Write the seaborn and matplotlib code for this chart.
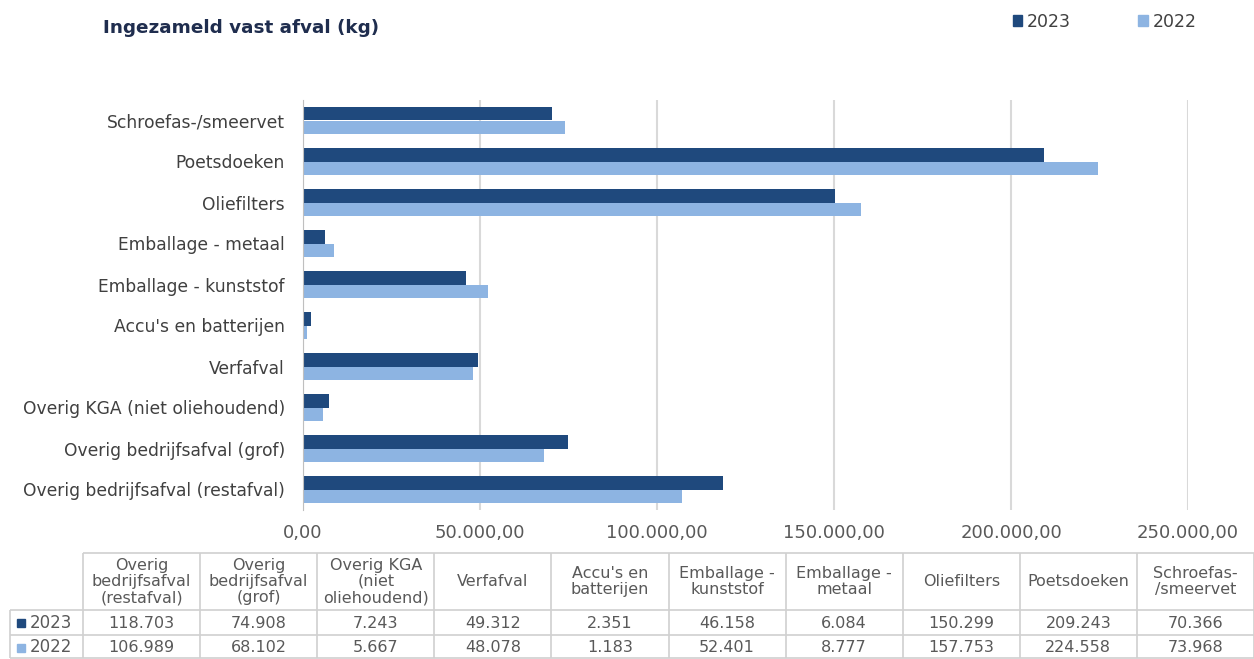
import matplotlib
matplotlib.use("Agg")
import matplotlib.pyplot as plt
import matplotlib.ticker as mticker
from matplotlib.patches import Rectangle
import pandas as pd
import seaborn as sns

# data (table order, left to right)
categories = ["Overig bedrijfsafval (restafval)", "Overig bedrijfsafval (grof)",
              "Overig KGA (niet oliehoudend)", "Verfafval", "Accu's en batterijen",
              "Emballage - kunststof", "Emballage - metaal", "Oliefilters",
              "Poetsdoeken", "Schroefas-/smeervet"]
table_headers = ["Overig\nbedrijfsafval\n(restafval)", "Overig\nbedrijfsafval\n(grof)",
                 "Overig KGA\n(niet\noliehoudend)", "Verfafval", "Accu's en\nbatterijen",
                 "Emballage -\nkunststof", "Emballage -\nmetaal", "Oliefilters",
                 "Poetsdoeken", "Schroefas-\n/smeervet"]
kg_2023 = [118703, 74908, 7243, 49312, 2351, 46158, 6084, 150299, 209243, 70366]
kg_2022 = [106989, 68102, 5667, 48078, 1183, 52401, 8777, 157753, 224558, 73968]
years = ["2023", "2022"]
x_ticks = [0, 50000, 100000, 150000, 200000, 250000]

DARK = "#1F497D"
LIGHT = "#8DB4E2"
TEXT = "#595959"
GRID = "#D9D9D9"


def nl(v, dec=2):
    s = f"{v:,.{dec}f}"
    return s.replace(",", "X").replace(".", ",").replace("X", ".")


df = pd.DataFrame({
    "categorie": categories * 2,
    "jaar": [years[0]] * len(categories) + [years[1]] * len(categories),
    "kg": kg_2023 + kg_2022,
})

sns.set_style("white")
plt.rcParams["font.family"] = ["DejaVu Sans"]

W, H = 1254, 659
fig = plt.figure(figsize=(W / 100, H / 100), dpi=100)
ax = fig.add_axes([303 / W, 1 - 510 / H, 885 / W, 410 / H])

sns.barplot(data=df, x="kg", y="categorie", hue="jaar", order=categories[::-1],
            hue_order=years, palette=[DARK, LIGHT], orient="h", width=0.67,
            saturation=1, errorbar=None, linewidth=0, legend=False, ax=ax)

ax.set_xlim(0, 250000)
ax.set_xticks(x_ticks)
ax.xaxis.set_major_formatter(mticker.FuncFormatter(lambda v, p: nl(v)))
ax.grid(axis="x", color=GRID, linewidth=1.5)
ax.set_axisbelow(True)
ax.set_xlabel("")
ax.set_ylabel("")
for s in ["top", "right", "bottom"]:
    ax.spines[s].set_visible(False)
ax.spines["left"].set_color("#BFBFBF")
ax.tick_params(axis="x", length=0, pad=10, labelsize=13, labelcolor=TEXT)
ax.tick_params(axis="y", which="major", length=0, pad=13, labelsize=12.3, labelcolor="#404040")
ax.set_yticks([i + 0.5 for i in range(-1, len(categories))], minor=True)
ax.tick_params(axis="y", which="minor", length=4, color="#BFBFBF")

fig.text(103 / W, 1 - 28 / H, "Ingezameld vast afval (kg)", fontsize=13.2,
         fontweight="bold", color="#1F2D4E", va="center", ha="left")

handles = [Rectangle((0, 0), 1, 1, color=DARK), Rectangle((0, 0), 1, 1, color=LIGHT)]
fig.legend(handles, years, loc="upper right", bbox_to_anchor=(1212 / W, 1 + 3 / H),
           ncol=2, frameon=False, handlelength=0.55, handleheight=0.55,
           handletextpad=0.25, columnspacing=3.9, fontsize=12.5, labelcolor="#404040")

# data table
tab = fig.add_axes([0, 0, 1, 106 / H])
tab.set_xlim(0, W)
tab.set_ylim(H, H - 106)
tab.axis("off")
edges = [83 + i * 117.1 for i in range(len(categories) + 1)]
lc = dict(color="#D0D0D0", linewidth=1.2, clip_on=False)
tab.vlines(edges, 553, 658, **lc)
tab.vlines([10], 610, 658, **lc)
tab.hlines([553], edges[0], edges[-1], **lc)
tab.hlines([610, 635, 658], 10, edges[-1], **lc)

for i, hdr in enumerate(table_headers):
    xc = (edges[i] + edges[i + 1]) / 2
    tab.text(xc, 581.5, hdr, ha="center", va="center", fontsize=11.5,
             color=TEXT, linespacing=1.12)
    tab.text(xc, 623, nl(kg_2023[i], 0), ha="center", va="center",
             fontsize=11.5, color=TEXT)
    tab.text(xc, 647.5, nl(kg_2022[i], 0), ha="center", va="center",
             fontsize=11.5, color=TEXT)

for yc, yr, col in [(623, years[0], DARK), (647.5, years[1], LIGHT)]:
    tab.add_patch(Rectangle((17, yc - 4), 8, 8, color=col, clip_on=False))
    tab.text(30, yc, yr, ha="left", va="center", fontsize=12, color=TEXT)

fig.savefig("out.png", dpi=100)
